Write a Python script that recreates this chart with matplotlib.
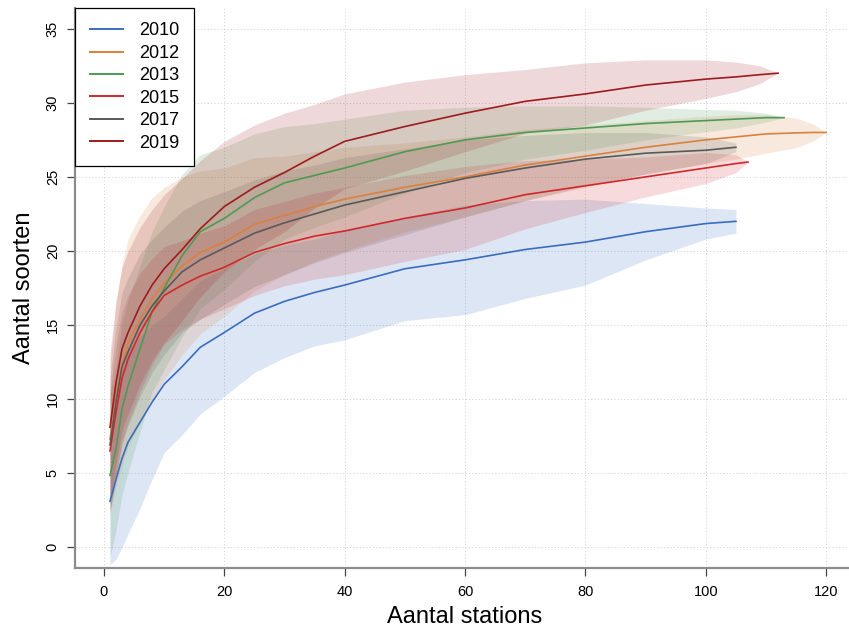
import matplotlib
matplotlib.use("Agg")
import matplotlib.pyplot as plt
import numpy as np

plt.rcParams["font.family"] = ["Liberation Sans", "DejaVu Sans"]

# stations sampled along each accumulation curve (shared part)
base_x = [1, 2, 3, 4, 6, 8, 10, 13, 16, 20, 25, 30, 35, 40, 50, 60, 70, 80, 90, 100]

# 2010
x_2010 = base_x + [105]
mean_2010 = [3.1, 4.6, 6.0, 7.1, 8.45, 9.8, 11.0, 12.2, 13.5, 14.5, 15.8, 16.6, 17.2, 17.7,
             18.8, 19.4, 20.1, 20.6, 21.3, 21.85, 22.0]
sd_2010 = [4.3, 5.4, 6.0, 6.2, 5.8, 5.2, 4.6, 4.6, 4.5, 4.3, 4.0, 3.8, 3.6, 3.7,
           3.5, 3.7, 3.3, 2.9, 1.9, 1.05, 0.8]

# 2012
x_2012 = base_x + [105, 110, 115, 118, 120]
mean_2012 = [7.3, 10.3, 12.3, 13.8, 15.4, 16.8, 17.8, 19.0, 19.9, 20.6, 21.8, 22.4, 23.0, 23.5,
             24.3, 25.0, 25.8, 26.4, 27.0, 27.5, 27.7, 27.9, 27.97, 28.0, 28.0]
sd_2012 = [5.0, 6.2, 6.8, 7.0, 7.0, 6.8, 6.5, 6.0, 5.5, 5.0, 4.5, 4.0, 3.7, 3.5,
           3.0, 2.7, 2.4, 2.1, 1.8, 1.6, 1.5, 1.3, 1.0, 0.55, 0.0]

# 2013
x_2013 = base_x + [105, 110, 113]
mean_2013 = [4.85, 6.65, 9.35, 10.9, 13.4, 15.9, 17.5, 19.7, 21.3, 22.2, 23.6, 24.6, 25.1, 25.6,
             26.7, 27.5, 28.0, 28.3, 28.6, 28.8, 28.9, 29.0, 29.0]
sd_2013 = [5.5, 5.5, 5.8, 5.8, 5.6, 5.4, 5.5, 5.5, 5.2, 4.8, 4.3, 3.8, 3.5, 3.3,
           2.8, 2.2, 1.8, 1.5, 1.1, 0.75, 0.6, 0.3, 0.0]

# 2015
x_2015 = base_x + [105, 107]
mean_2015 = [6.5, 9.1, 11.4, 12.7, 14.5, 15.9, 17.0, 17.7, 18.3, 18.9, 19.9, 20.5, 21.0, 21.35,
             22.2, 22.9, 23.8, 24.4, 25.0, 25.6, 25.9, 26.0]
sd_2015 = [4.0, 4.5, 4.5, 4.3, 4.0, 3.6, 3.3, 3.0, 2.9, 2.8, 2.9, 2.85, 2.9, 2.95,
           2.9, 2.8, 2.3, 1.8, 1.35, 1.05, 0.6, 0.0]

# 2017
x_2017 = base_x + [105]
mean_2017 = [6.9, 9.8, 12.2, 13.2, 15.0, 16.3, 17.3, 18.6, 19.4, 20.2, 21.2, 21.9, 22.5, 23.1,
             24.0, 24.9, 25.6, 26.2, 26.6, 26.8, 27.0]
sd_2017 = [4.5, 5.0, 5.0, 5.0, 4.8, 4.5, 4.3, 4.1, 4.0, 3.8, 3.6, 3.5, 3.3, 3.2,
           2.9, 2.6, 2.2, 1.8, 1.4, 0.9, 0.3]

# 2019
x_2019 = base_x + [105, 109, 112]
mean_2019 = [8.1, 11.1, 13.4, 14.5, 16.3, 17.7, 18.8, 20.1, 21.5, 23.0, 24.3, 25.3, 26.4, 27.4,
             28.4, 29.3, 30.1, 30.6, 31.2, 31.6, 31.75, 31.9, 32.0]
sd_2019 = [5.0, 5.5, 5.5, 5.5, 5.3, 5.1, 5.0, 4.8, 4.6, 4.4, 4.2, 4.0, 3.5, 3.2,
           3.0, 2.6, 2.15, 2.1, 1.7, 1.3, 1.0, 0.6, 0.0]

years = ["2010", "2012", "2013", "2015", "2017", "2019"]
colors = ["#3B6DBE", "#D9813F", "#4E9A55", "#D0282C", "#595959", "#9E1B1E"]

curves = [
    (x_2010, mean_2010, sd_2010),
    (x_2012, mean_2012, sd_2012),
    (x_2013, mean_2013, sd_2013),
    (x_2015, mean_2015, sd_2015),
    (x_2017, mean_2017, sd_2017),
    (x_2019, mean_2019, sd_2019),
]

fig = plt.figure(figsize=(8.49, 6.30), dpi=100)
ax = fig.add_axes([75.1 / 849, 62 / 630, 780 / 849, 560 / 630])

# confidence polygons first, curves on top
for (xs, m, s), c in zip(curves, colors):
    xs = np.asarray(xs, float)
    m = np.asarray(m, float)
    s = np.asarray(s, float)
    ax.fill_between(xs, m - s, m + s, color=c, alpha=0.17, lw=0, zorder=2)

for (xs, m, s), c, yr in zip(curves, colors, years):
    ax.plot(xs, m, color=c, lw=1.2, label=yr, zorder=3)

ax.set_xlim(-4.8, 124.8)
ax.set_ylim(-1.4, 36.4)
ax.set_xticks(range(0, 121, 20))
ax.set_yticks(range(0, 36, 5))
ax.grid(True, color="#d4d4d4", ls=(0, (1.2, 2.2)), lw=0.7, zorder=0)

for side in ("top", "right"):
    ax.spines[side].set_visible(False)
for side in ("left", "bottom"):
    ax.spines[side].set_color("#8c8c8c")
    ax.spines[side].set_linewidth(1.6)

ax.tick_params(axis="both", length=6, width=0.9, color="#444444", labelsize=10.5, pad=5)
ax.tick_params(axis="x", pad=6)
plt.setp(ax.get_yticklabels(), rotation=90, va="center")

ax.set_xlabel("Aantal stations", fontsize=17, labelpad=5)
ax.set_ylabel("Aantal soorten", fontsize=17, labelpad=8)

leg = ax.legend(loc="upper left", bbox_to_anchor=(0, 1), borderaxespad=0,
                fontsize=13, handlelength=1.85, handletextpad=0.9,
                labelspacing=0.3, borderpad=0.8, fancybox=False,
                framealpha=1, edgecolor="black")
leg.get_frame().set_linewidth(0.9)
for line in leg.get_lines():
    line.set_linewidth(1.4)

fig.savefig("out.png", dpi=100)
